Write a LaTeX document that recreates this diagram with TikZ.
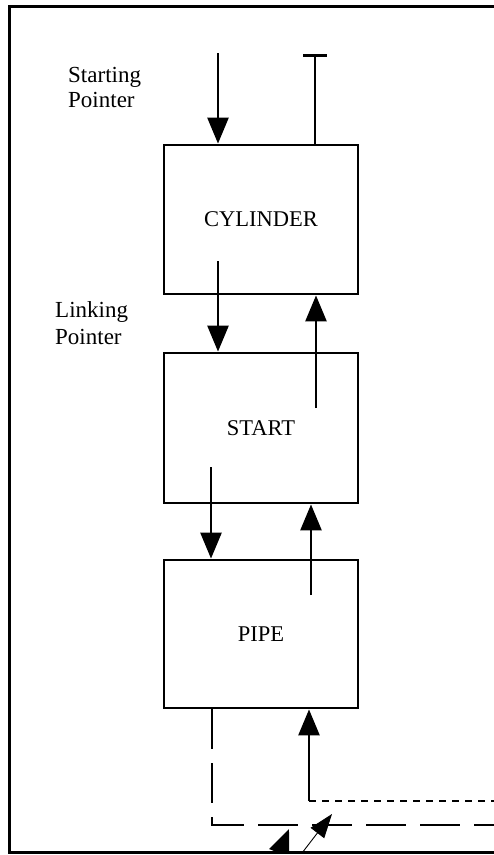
\documentclass[tikz,border=0pt]{standalone}
\usepackage{fontspec}
\setmainfont{Liberation Serif}
\usetikzlibrary{arrows.meta}
\begin{document}
\begin{tikzpicture}[x=1pt,y=-1pt,
  box/.style={draw, line width=2.8pt, minimum width=194pt, minimum height=149pt, inner sep=0pt, font=\fontsize{22.5}{26}\selectfont},
  lbl/.style={anchor=base west, inner sep=0pt, font=\fontsize{23}{26}\selectfont},
  arr/.style={line width=2.6pt, -{Triangle[length=26pt,width=21pt]}},
  thinarr/.style={line width=0.9pt, -{Triangle[length=24pt,width=17pt]}},
  barline/.style={line width=2.6pt, -{Bar[width=24pt,line width=2.6pt]}},
  longdash/.style={line width=1.6pt, dash pattern=on 40pt off 14pt},
  shortdash/.style={line width=1.6pt, dash pattern=on 7pt off 6pt},
  frame/.style={line width=3pt}
]
\useasboundingbox (0,0) rectangle (494,855);

% boxes
\node[box] (cyl) at (261,219.5) {CYLINDER};
\node[box, minimum height=150pt] (start) at (261,428) {START};
\node[box, minimum height=148pt] (pipe) at (261,634) {PIPE};

% labels
\node[lbl] (sp1) at (68,82) {Starting};
\node[lbl] (sp2) at (68,107) {Pointer};
\node[lbl] (lp1) at (55,317) {Linking};
\node[lbl] (lp2) at (55,344) {Pointer};

% starting pointer
\coordinate (spt) at (218,53);
\draw[arr] (spt) -- (spt |- cyl.north);
% T line
\coordinate (tb) at (315,54);
\draw[barline] (tb |- cyl.north) -- (tb);

% cylinder -> start
\coordinate (c1) at (218,261);
\draw[arr] (c1) -- (c1 |- start.north);
% start -> cylinder
\coordinate (c2) at (316,408);
\draw[arr] (c2) -- (c2 |- cyl.south);

% start -> pipe
\coordinate (c3) at (211,467);
\draw[arr] (c3) -- (c3 |- pipe.north);
% pipe -> start
\coordinate (c4) at (311,595);
\draw[arr] (c4) -- (c4 |- start.south);

% bottom connectors
\coordinate (d1) at (212,825);
\coordinate (d1e) at (494,825);
\draw[longdash] (d1 |- pipe.south) -- (d1) -- (d1e);
\coordinate (u1) at (309,801);
\coordinate (u1e) at (494,801);
\draw[arr] (u1) -- (u1 |- pipe.south);
\draw[shortdash] (u1) -- (u1e);

% clipped arrows at bottom edge
\begin{scope}
  \clip (0,0) rectangle (494,851);
  \coordinate (b1s) at (266.5,884.6);
  \coordinate (b1e) at (289,829);
  \draw[arr] (b1s) -- (b1e);
  \coordinate (b2s) at (294,863.4);
  \coordinate (b2e) at (332,814);
  \draw[thinarr] (b2s) -- (b2e);
\end{scope}

% frame
\draw[frame] (494,6) -- (9,6) -- (9,852.5) -- (494,852.5);
\end{tikzpicture}
\end{document}
